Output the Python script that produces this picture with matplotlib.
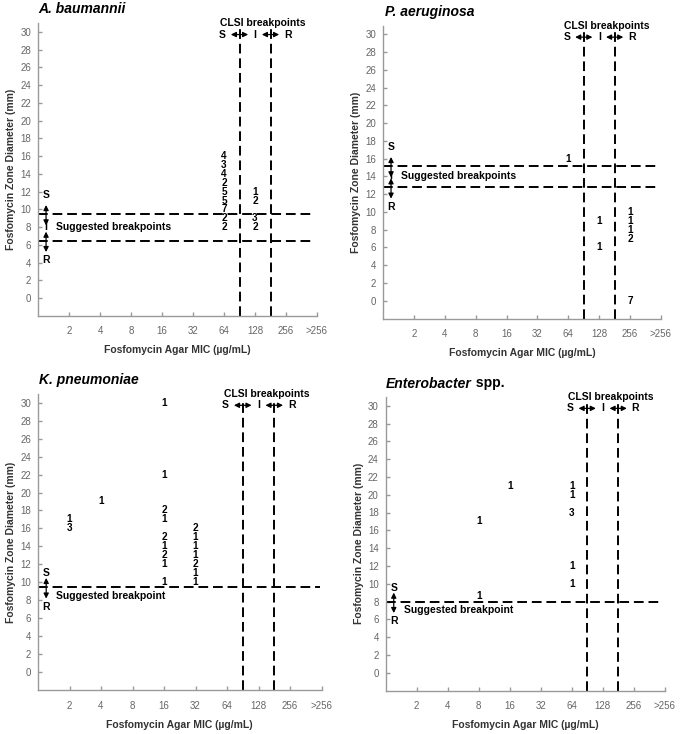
import matplotlib
matplotlib.use("Agg")
import matplotlib.pyplot as plt

plt.rcParams['font.family'] = ['Liberation Sans', 'DejaVu Sans']

mic_labels = ['2', '4', '8', '16', '32', '64', '128', '256', '>256']
y_ticks = list(range(0, 31, 2))

# A. baumannii
A_mic = ['64'] * 9 + ['128'] * 4
A_diam = [16, 15, 14, 13, 12, 11, 10, 9, 8, 12, 11, 9, 8]
A_count = [4, 3, 4, 2, 5, 5, 7, 2, 2, 1, 2, 3, 2]
A_sugg = [9.5, 6.5]

# P. aeruginosa
P_mic = ['64', '128', '128', '256', '256', '256', '256', '256']
P_diam = [16, 9, 6, 10, 9, 8, 7, 0]
P_count = [1, 1, 1, 1, 1, 1, 2, 7]
P_sugg = [15.2, 12.8]

# K. pneumoniae
K_mic = ['2', '2', '4'] + ['16'] * 9 + ['32'] * 7
K_diam = [17, 16, 19, 30, 22, 18, 17, 15, 14, 13, 12, 10, 16, 15, 14, 13, 12, 11, 10]
K_count = [1, 3, 1, 1, 1, 2, 1, 2, 1, 2, 1, 1, 2, 1, 1, 1, 2, 1, 1]
K_sugg = [9.5]

# Enterobacter spp.
E_mic = ['8', '8', '16', '64', '64', '64', '64', '64']
E_diam = [17, 8.6, 21, 21, 20, 18, 12, 10]
E_count = [1, 1, 1, 1, 1, 3, 1, 1]
E_sugg = [8]

# CLSI breakpoints lie between MIC categories 64|128 and 128|256
clsi_between = [('64', '128'), ('128', '256')]

W, H = 680, 734
fig = plt.figure(figsize=(W / 100, H / 100), dpi=100)


def rect(x0, x1, ytop, ybot):
    return [x0 / W, 1 - ybot / H, (x1 - x0) / W, (ybot - ytop) / H]


def pos(m):
    return mic_labels.index(m) + 1


DASH = dict(color='black', lw=1.4, dashes=(5, 2.5), solid_capstyle='butt', dash_capstyle='butt')
ARW = dict(arrowstyle='<|-|>,head_length=0.5,head_width=0.25', lw=0.9, color='black',
           shrinkA=0, shrinkB=0, mutation_scale=6)


def panel(r, mics, diams, counts, sugg, sugg_text):
    ax = fig.add_axes(r)
    ax.set_xlim(0, 9)
    ax.set_ylim(-2, 31)
    for s in ['top', 'right']:
        ax.spines[s].set_visible(False)
    for s in ['left', 'bottom']:
        ax.spines[s].set_color('#9a9a9a')
        ax.spines[s].set_linewidth(1.0)
    ax.set_xticks(range(1, 10))
    ax.set_xticklabels(mic_labels)
    ax.set_yticks(y_ticks)
    ax.tick_params(axis='both', direction='in', length=3, width=1, color='#9a9a9a',
                   labelcolor='#666666', labelsize=7)
    ax.tick_params(axis='x', pad=7.5)
    ax.tick_params(axis='y', pad=5)
    ax.set_xlabel('Fosfomycin Agar MIC (µg/mL)', fontsize=7.5, fontweight='bold',
                  color='#333333', labelpad=6.5)
    ax.set_ylabel('Fosfomycin Zone Diameter (mm)', fontsize=7.5, fontweight='bold',
                  color='#333333', labelpad=3)

    for m, d, c in zip(mics, diams, counts):
        ax.text(pos(m), d, str(c), ha='center', va='center', fontsize=7.2,
                fontweight='bold')

    # CLSI vertical lines
    xs = [(pos(a) + pos(b)) / 2 for a, b in clsi_between]
    row = 29.7
    for x in xs:
        ax.plot([x, x], [-2, 30.3], clip_on=False, **DASH)
        ax.annotate('', xy=(x - 0.28, row), xytext=(x + 0.28, row),
                    arrowprops=ARW, annotation_clip=False)
    kw = dict(fontsize=7.5, fontweight='bold', va='center', ha='center')
    ax.text(xs[0] - 0.55, row, 'S', **kw)
    ax.text((xs[0] + xs[1]) / 2, row, 'I', **kw)
    ax.text(xs[1] + 0.55, row, 'R', **kw)
    ax.text(7.25, 31.0, 'CLSI breakpoints', clip_on=False, **kw)

    # suggested horizontal lines
    xa = 0.26
    for y in sugg:
        ax.plot([0, 8.95], [y, y], clip_on=False, **DASH)
        ax.annotate('', xy=(xa, y + 1.0), xytext=(xa, y - 1.3),
                    arrowprops=ARW, annotation_clip=False)
    s_off = 2.1 if len(sugg) == 2 else 1.5
    ax.text(xa, sugg[0] + s_off, 'S', **kw)
    ax.text(xa, sugg[-1] - 2.2, 'R', **kw)
    if len(sugg) == 2:
        mid = (sugg[0] + sugg[1]) / 2
        ax.text(xa, mid, 'I', **kw)
        ty = mid
    else:
        ty = sugg[0] - 1.0
    ax.text(0.58, ty, sugg_text, fontsize=7.5, fontweight='bold', va='center', ha='left')
    return ax


panel(rect(38, 317, 23, 316), A_mic, A_diam, A_count, A_sugg, 'Suggested breakpoints')
panel(rect(383, 661, 25.6, 318.5), P_mic, P_diam, P_count, P_sugg, 'Suggested breakpoints')
panel(rect(38, 321.5, 393.6, 690.3), K_mic, K_diam, K_count, K_sugg, 'Suggested breakpoint')
panel(rect(385.7, 664.7, 396.8, 690.5), E_mic, E_diam, E_count, E_sugg, 'Suggested breakpoint')

tkw = dict(fontsize=10, fontweight='bold', va='baseline', ha='left')
fig.text(38 / W, 1 - 13 / H, 'A. baumannii', style='italic', **tkw)
fig.text(385 / W, 1 - 16 / H, 'P. aeruginosa', style='italic', **tkw)
fig.text(39 / W, 1 - 384 / H, 'K. pneumoniae', style='italic', **tkw)
t = fig.text(386 / W, 1 - 387.5 / H, 'Enterobacter', style='italic', **tkw)
fig.canvas.draw()
bb = t.get_window_extent(renderer=fig.canvas.get_renderer())
fig.text(bb.x1 / W, 1 - 387.5 / H, ' spp.', **tkw)

fig.savefig('out.png', dpi=100)
